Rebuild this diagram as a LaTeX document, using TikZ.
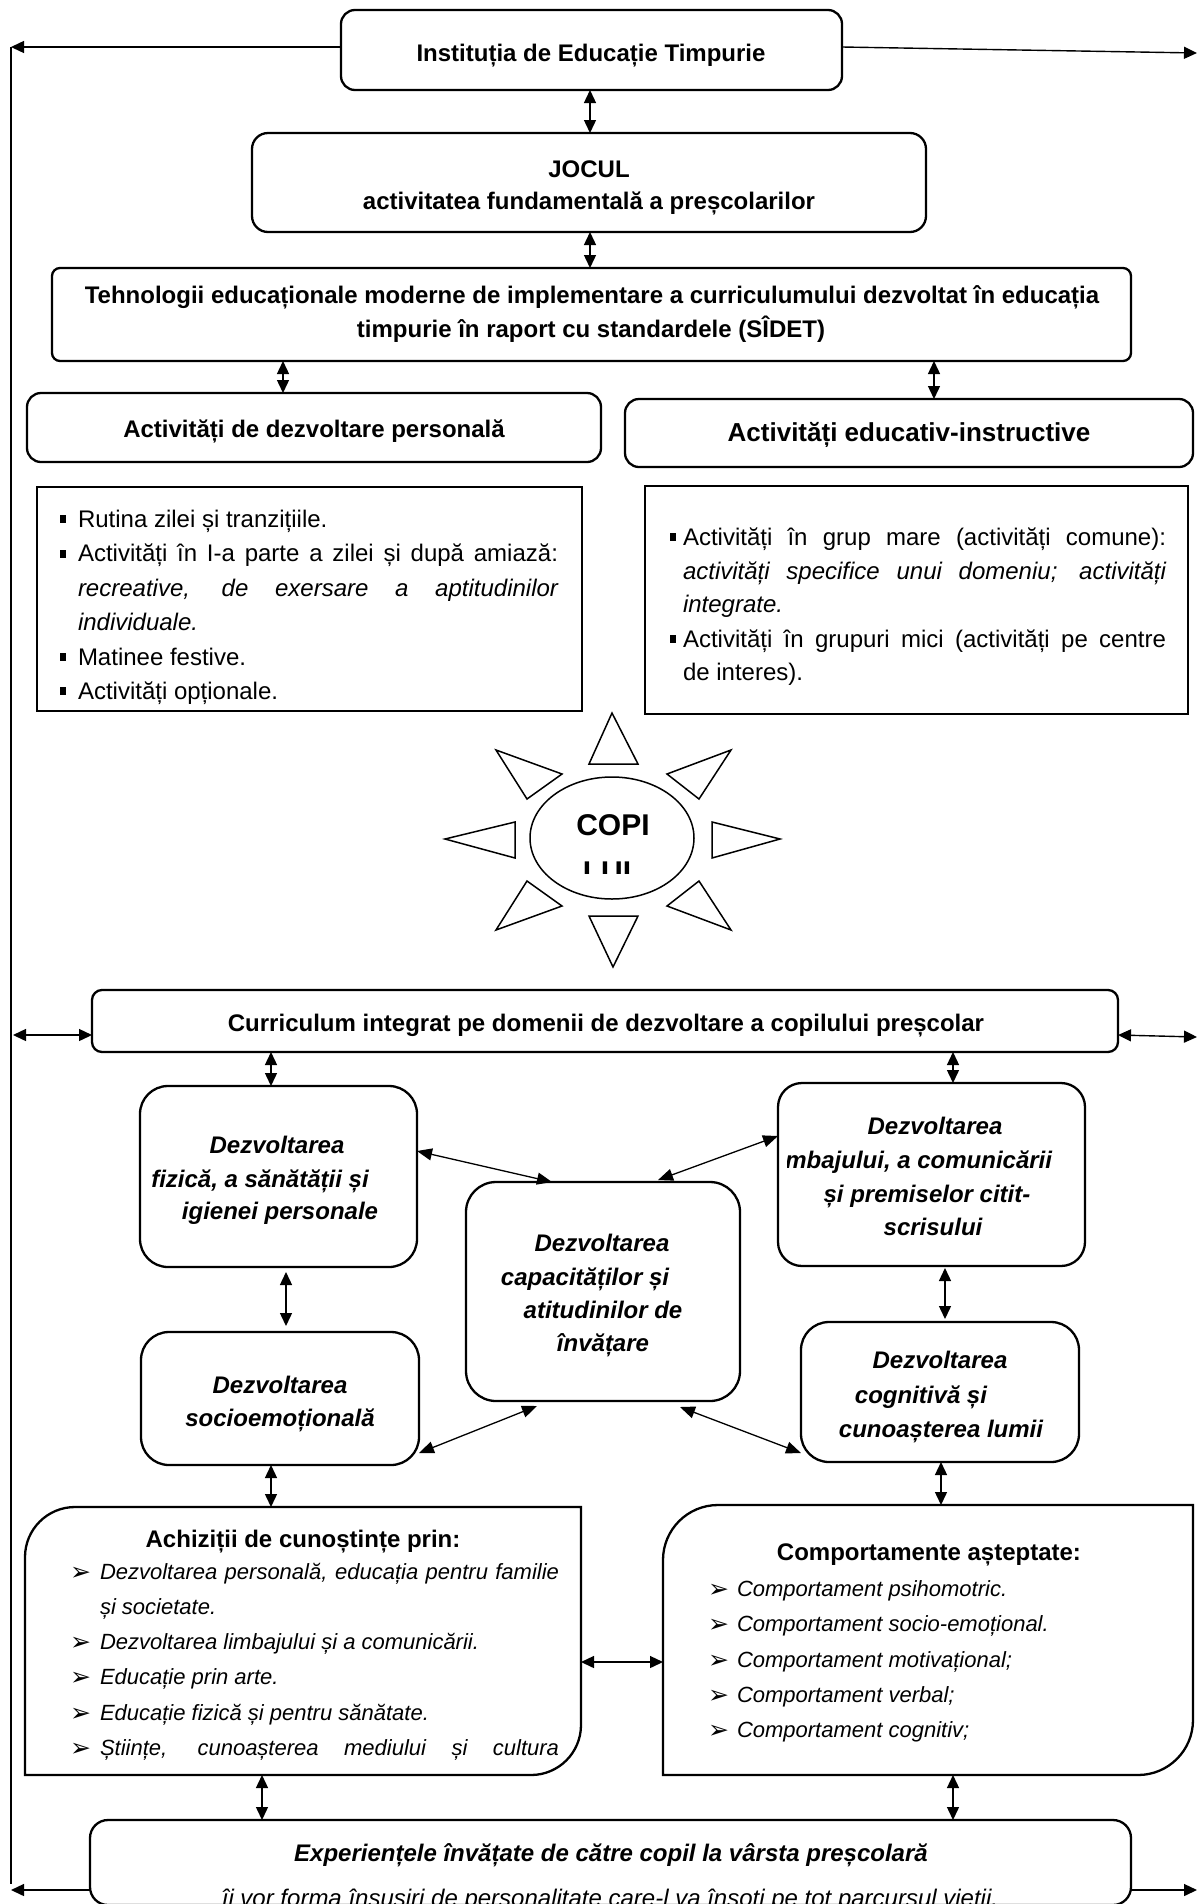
\documentclass[tikz,border=0pt]{standalone}
\usepackage{fontspec}
\setmainfont{Liberation Sans}
\newfontfamily\dejavu{DejaVu Sans}
\usetikzlibrary{arrows.meta,shapes.geometric}

% text sizes (1pt = 1 unit of the drawing)
\newcommand\ftreg{\fontsize{24pt}{29pt}\selectfont}
\newcommand\ftit{\fontsize{24pt}{29pt}\selectfont\itshape}
\newcommand\ftbold{\fontsize{24pt}{29pt}\selectfont\bfseries}
\newcommand\ftbig{\fontsize{26pt}{31pt}\selectfont\bfseries}
\newcommand\ftbi{\fontsize{24pt}{29pt}\selectfont\bfseries\itshape}
\newcommand\ftsmit{\fontsize{22pt}{27pt}\selectfont\itshape}
\newcommand\ftcopi{\fontsize{30pt}{36pt}\selectfont\bfseries}
\newcommand\sqbul{\rule[4pt]{6pt}{8pt}}
\newcommand\arrbul{{\dejavu\fontsize{25pt}{28pt}\selectfont ➢}}

\tikzset{
  box/.style={draw, line width=2.3pt, inner sep=0pt, outer sep=0pt},
  lbl/.style={inner sep=0pt, outer sep=0pt, anchor=base},
  lblw/.style={inner sep=0pt, outer sep=0pt, anchor=base west},
  tipA/.tip={Triangle[length=13pt,width=12pt]},
  tipB/.tip={Triangle[length=15pt,width=12pt]},
  dbl/.style={tipA-tipA, line width=1.4pt},
  onew/.style={-tipA, line width=1.4pt},
  diag/.style={tipB-tipB, line width=1.3pt},
  ray/.style={draw, line width=1.5pt, line join=miter}
}

\begin{document}
\begin{tikzpicture}[x=1pt,y=-1pt]
\useasboundingbox (0,0) rectangle (1198,1904);
\fill[white] (0,0) rectangle (1198,1904);

% ---------- upper chain ----------
\node[box, rounded corners=14pt, minimum width=501pt, minimum height=80pt] (top) at (591.5,50) {};
\node[lbl, font=\ftbold] (ttop) at (591,61) {Instituția de Educație Timpurie};

\node[box, rounded corners=16pt, minimum width=674pt, minimum height=99pt] (jocul) at (589,182.5) {};
\node[lbl, font=\ftbold] (tjoc1) at (589,177) {JOCUL};
\node[lbl, font=\ftbold] (tjoc2) at (589,209) {activitatea fundamentală a preșcolarilor};

\node[box, rounded corners=8pt, minimum width=1079pt, minimum height=93pt] (tehn) at (591.5,314.5) {};
\node[lbl, font=\ftbold] (tteh1) at (592,303) {Tehnologii educaționale moderne de implementare a curriculumului dezvoltat în educația};
\node[lbl, font=\ftbold] (tteh2) at (591,337) {timpurie în raport cu standardele (SÎDET)};

\node[box, rounded corners=14pt, minimum width=574pt, minimum height=69pt] (adp) at (314,427.5) {};
\node[lbl, font=\ftbold] (tadp) at (314,437) {Activități de dezvoltare personală};

\node[box, rounded corners=14pt, minimum width=568pt, minimum height=68pt] (aei) at (909,433) {};
\node[lbl, font=\ftbig] (taei) at (909,441) {Activități educativ-instructive};

% ---------- lists of activities ----------
\node[box, minimum width=545pt, minimum height=224pt] (listl) at (309.5,599) {};
\node[lblw] (bl1) at (60,527) {\sqbul};
\node[lblw, font=\ftreg] (l1) at (78,527) {Rutina zilei și tranzițiile.};
\node[lblw] (bl2) at (60,561.5) {\sqbul};
\node[lblw, font=\ftreg] (l2) at (78,561.5) {\makebox[480pt][s]{Activități în I-a parte a zilei și după amiază:}};
\node[lblw, font=\ftit] (l3) at (78,596) {\makebox[480pt][s]{recreative, de exersare a aptitudinilor}};
\node[lblw, font=\ftit] (l4) at (78,630) {individuale.};
\node[lblw] (bl5) at (60,665) {\sqbul};
\node[lblw, font=\ftreg] (l5) at (78,665) {Matinee festive.};
\node[lblw] (bl6) at (60,699) {\sqbul};
\node[lblw, font=\ftreg] (l6) at (78,699) {Activități opționale.};

\node[box, minimum width=543pt, minimum height=228pt] (listr) at (916.5,600) {};
\node[lblw] (br1) at (670,545) {\sqbul};
\node[lblw, font=\ftreg] (r1) at (683,545) {\makebox[483pt][s]{Activități în grup mare (activități comune):}};
\node[lblw, font=\ftit] (r2) at (683,579) {\makebox[483pt][s]{activități specifice unui domeniu; activități}};
\node[lblw, font=\ftit] (r3) at (683,612) {integrate.};
\node[lblw] (br4) at (670,647) {\sqbul};
\node[lblw, font=\ftreg] (r4) at (683,647) {\makebox[483pt][s]{Activități în grupuri mici (activități pe centre}};
\node[lblw, font=\ftreg] (r5) at (683,680) {de interes).};

% ---------- sun ----------
\node[draw, ellipse, line width=1.5pt, minimum width=164pt, minimum height=122pt, inner sep=0pt] (sun) at (612,838) {};
\node[lbl, font=\ftcopi] (copi) at (613,835) {COPI};
\begin{scope}
  \clip (560,850) rectangle (670,873);
  \node[lbl, font=\ftcopi] (copi2) at (612,882) {LUL};
\end{scope}
\draw[ray] (612,713) -- (589,764) -- (638,764) -- cycle;
\draw[ray] (613,967) -- (589,916) -- (638,916) -- cycle;
\draw[ray] (445,839) -- (515,822) -- (515,858) -- cycle;
\draw[ray] (780,839) -- (712,822) -- (712,858) -- cycle;
\draw[ray] (496,750) -- (562,774) -- (527,799) -- cycle;
\draw[ray] (731,750) -- (667,774) -- (699,799) -- cycle;
\draw[ray] (496,930) -- (562,906) -- (527,881) -- cycle;
\draw[ray] (731,930) -- (667,906) -- (699,881) -- cycle;

% ---------- curriculum and domains ----------
\node[box, rounded corners=10pt, minimum width=1026pt, minimum height=62pt] (curr) at (605,1021) {};
\node[lbl, font=\ftbold] (tcurr) at (606,1031) {Curriculum integrat pe domenii de dezvoltare a copilului preșcolar};

\node[box, rounded corners=28pt, minimum width=277pt, minimum height=181pt] (boxa) at (278.5,1176.5) {};
\node[lbl, font=\ftbi] (ta1) at (277,1153) {Dezvoltarea};
\node[lbl, font=\ftbi] (ta2) at (260,1187) {fizică, a sănătății și};
\node[lbl, font=\ftbi] (ta3) at (280,1219) {igienei personale};

\node[box, rounded corners=28pt, minimum width=278pt, minimum height=133pt] (boxb) at (280,1398.5) {};
\node[lbl, font=\ftbi] (tb1) at (280,1393) {Dezvoltarea};
\node[lbl, font=\ftbi] (tb2) at (280,1426) {socioemoțională};

\node[box, rounded corners=30pt, minimum width=274pt, minimum height=219pt] (boxc) at (603,1291.5) {};
\node[lbl, font=\ftbi] (tc1) at (602,1251) {Dezvoltarea};
\node[lbl, font=\ftbi] (tc2) at (585,1285) {capacităților și};
\node[lbl, font=\ftbi] (tc3) at (603,1318) {atitudinilor de};
\node[lbl, font=\ftbi] (tc4) at (603,1351) {învățare};

\node[box, rounded corners=24pt, minimum width=307pt, minimum height=183pt] (boxd) at (931.5,1174.5) {};
\node[lbl, font=\ftbi] (td1) at (935,1134) {Dezvoltarea};
\begin{scope}
  \clip (787,1140) rectangle (1080,1180);
  \node[lblw, font=\ftbi] (td2) at (772,1168) {limbajului, a comunicării};
\end{scope}
\node[lbl, font=\ftbi] (td3) at (927,1202) {și premiselor citit-};
\node[lbl, font=\ftbi] (td4) at (933,1235) {scrisului};

\node[box, rounded corners=28pt, minimum width=278pt, minimum height=140pt] (boxe) at (940,1392) {};
\node[lbl, font=\ftbi] (te1) at (940,1368) {Dezvoltarea};
\node[lbl, font=\ftbi] (te2) at (921,1403) {cognitivă și};
\node[lbl, font=\ftbi] (te3) at (941,1437) {cunoașterea lumii};

% ---------- acquisitions and behaviours ----------
\node[minimum width=556pt, minimum height=268pt, inner sep=0pt, outer sep=0pt] (ach) at (303,1641) {};
\draw[line width=2.3pt] (ach.south west) -- (25,1557) .. controls (25,1529.4) and (47.4,1507) .. (75,1507)
  -- (ach.north east) -- (581,1725) .. controls (581,1752.6) and (558.6,1775) .. (531,1775) -- cycle;
\node[lbl, font=\ftbold] (tach) at (303,1547) {Achiziții de cunoștințe prin:};
\node[lblw] (ba1) at (70,1580) {\arrbul};
\node[lblw, font=\ftsmit] (a1) at (100,1579) {\makebox[459pt][s]{Dezvoltarea personală, educația pentru familie}};
\node[lblw, font=\ftsmit] (a2) at (100,1614) {și societate.};
\node[lblw] (ba3) at (70,1650) {\arrbul};
\node[lblw, font=\ftsmit] (a3) at (100,1649) {Dezvoltarea limbajului și a comunicării.};
\node[lblw] (ba4) at (70,1685) {\arrbul};
\node[lblw, font=\ftsmit] (a4) at (100,1684) {Educație prin arte.};
\node[lblw] (ba5) at (70,1721) {\arrbul};
\node[lblw, font=\ftsmit] (a5) at (100,1720) {Educație fizică și pentru sănătate.};
\node[lblw] (ba6) at (70,1756) {\arrbul};
\node[lblw, font=\ftsmit] (a6) at (100,1755) {\makebox[459pt][s]{Științe, cunoașterea mediului și cultura}};

\node[minimum width=530pt, minimum height=270pt, inner sep=0pt, outer sep=0pt] (comp) at (928,1640) {};
\draw[line width=2.3pt] (comp.south west) -- (663,1560) .. controls (663,1529.6) and (687.6,1505) .. (718,1505)
  -- (comp.north east) -- (1193,1720) .. controls (1193,1750.4) and (1168.4,1775) .. (1138,1775) -- cycle;
\node[lbl, font=\ftbold] (tcomp) at (929,1560) {Comportamente așteptate:};
\node[lblw] (bc1) at (708,1597) {\arrbul};
\node[lblw, font=\ftsmit] (c1) at (737,1596) {Comportament psihomotric.};
\node[lblw] (bc2) at (708,1632) {\arrbul};
\node[lblw, font=\ftsmit] (c2) at (737,1631) {Comportament socio-emoțional.};
\node[lblw] (bc3) at (708,1668) {\arrbul};
\node[lblw, font=\ftsmit] (c3) at (737,1667) {Comportament motivațional;};
\node[lblw] (bc4) at (708,1703) {\arrbul};
\node[lblw, font=\ftsmit] (c4) at (737,1702) {Comportament verbal;};
\node[lblw] (bc5) at (708,1738) {\arrbul};
\node[lblw, font=\ftsmit] (c5) at (737,1737) {Comportament cognitiv;};

% ---------- experiences ----------
\node[box, rounded corners=18pt, minimum width=1041pt, minimum height=85pt] (exp) at (610.5,1862.5) {};
\node[lbl, font=\ftbi] (tex1) at (611,1861) {Experiențele învățate de către copil la vârsta preșcolară};
\node[lbl, font=\ftit] (tex2) at (610,1906) {îi vor forma însușiri de personalitate care-l va însoți pe tot parcursul vieții.};

% ---------- connectors ----------
\coordinate (lt) at (11,47);
\coordinate (lb) at (11,1890);
\coordinate (rt) at (1197,53);
\coordinate (rb) at (1197,1890);
\coordinate (cl) at (13,1035);
\coordinate (cr) at (1197,1037);

\draw[onew] (top.west |- lt) -- (lt);
\draw[line width=1.4pt] (lt) -- ([yshift=6pt]lb);
\draw[onew] (exp.west |- lb) -- (lb);
\draw[onew] ([yshift=3pt]top.east) -- (rt);
\draw[onew] (exp.east |- rb) -- (rb);
\draw[dbl] (cl) -- (curr.west |- cl);
\draw[dbl] (curr.east |- cl) -- (cr);

\draw[dbl] (top.south -| 590,0) -- (jocul.north -| 590,0);
\draw[dbl] (jocul.south -| 590,0) -- (tehn.north -| 590,0);
\draw[dbl] (tehn.south -| 283,0) -- (adp.north -| 283,0);
\draw[dbl] (tehn.south -| 934,0) -- (aei.north -| 934,0);
\draw[dbl] (curr.south -| 271,0) -- (boxa.north -| 271,0);
\draw[dbl] (curr.south -| 953,0) -- (boxd.north -| 953,0);
\draw[dbl, shorten <=5pt, shorten >=6pt] (boxa.south -| 286,0) -- (boxb.north -| 286,0);
\draw[dbl, shorten <=2pt, shorten >=3pt] (boxd.south -| 945,0) -- (boxe.north -| 945,0);
\draw[dbl] (boxb.south -| 271,0) -- (ach.north -| 271,0);
\draw[dbl] (boxe.south -| 941,0) -- (comp.north -| 941,0);
\draw[dbl] (ach.south -| 262,0) -- (exp.north -| 262,0);
\draw[dbl] (comp.south -| 953,0) -- (exp.north -| 953,0);
\draw[dbl] (ach.east |- 0,1662) -- (comp.west |- 0,1662);

\draw[diag] (boxa.east |- 0,1151) -- (boxc.north -| 552,0);
\draw[diag] (boxd.west |- 0,1136) -- ([yshift=2pt]boxc.north -| 658,0);
\draw[diag] ([yshift=-5pt]boxc.south -| 537,0) -- (boxb.east |- 0,1453);
\draw[diag] ([yshift=-6pt]boxc.south -| 680,0) -- (boxe.west |- 0,1453);
\end{tikzpicture}
\end{document}
